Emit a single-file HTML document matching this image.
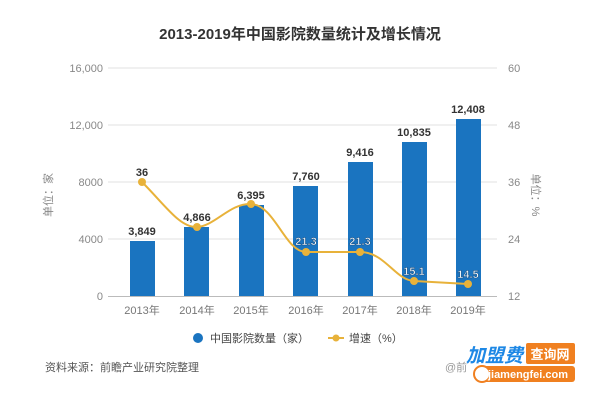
<!DOCTYPE html>
<html><head><meta charset="utf-8"><style>
body{margin:0;background:#fff;}
svg text{font-family:"Liberation Sans","Noto Sans CJK SC",sans-serif;}
</style></head><body>
<svg width="600" height="404" viewBox="0 0 600 404" xmlns="http://www.w3.org/2000/svg">
<text x="300" y="39" text-anchor="middle" font-size="15" font-weight="bold" fill="#333">2013-2019年中国影院数量统计及增长情况</text>
<g stroke="#e2e2e2" stroke-width="1">
<line x1="108" y1="68" x2="497" y2="68"/><line x1="108" y1="125" x2="497" y2="125"/>
<line x1="108" y1="182" x2="497" y2="182"/><line x1="108" y1="239" x2="497" y2="239"/>
</g>
<line x1="108" y1="296.5" x2="497" y2="296.5" stroke="#bbb"/>
<g font-size="11" fill="#888" text-anchor="end">
<text x="103" y="72">16,000</text><text x="103" y="129">12,000</text><text x="103" y="186">8000</text><text x="103" y="243">4000</text><text x="103" y="300">0</text>
</g>
<g font-size="11" fill="#888" text-anchor="start">
<text x="508" y="72">60</text><text x="508" y="129">48</text><text x="508" y="186">36</text><text x="508" y="243">24</text><text x="508" y="300">12</text>
</g>
<text transform="translate(52,195) rotate(-90)" font-size="11" fill="#888" text-anchor="middle">单位：家</text>
<text transform="translate(532,195) rotate(90)" font-size="11" fill="#888" text-anchor="middle">单位：%</text>
<g fill="#1a74c0">
<rect x="130" y="241" width="25" height="55"/>
<rect x="184" y="227" width="25" height="69"/>
<rect x="239" y="205" width="25" height="91"/>
<rect x="293" y="186" width="25" height="110"/>
<rect x="348" y="162" width="25" height="134"/>
<rect x="402" y="142" width="25" height="154"/>
<rect x="456" y="119" width="25" height="177"/>
</g>
<g font-size="11" fill="#333" font-weight="bold" text-anchor="middle">
<text x="142" y="235">3,849</text><text x="197" y="221">4,866</text><text x="251" y="199">6,395</text>
<text x="306" y="180">7,760</text><text x="360" y="156">9,416</text><text x="414" y="136">10,835</text><text x="468" y="113">12,408</text>
<text x="142" y="176">36</text>
</g>
<path d="M142,182 C165,205 180,228 197,227 C215,226 230,203 251,204 C275,205 285,252 306,252 L360,252 C385,252 395,280 414,281 L468,284" fill="none" stroke="#e8b23a" stroke-width="2"/>
<g fill="#e8b23a"><circle cx="142" cy="182" r="4"/><circle cx="197" cy="227" r="4"/><circle cx="251" cy="204" r="4"/><circle cx="306" cy="252" r="4"/><circle cx="360" cy="252" r="4"/><circle cx="414" cy="281" r="4"/><circle cx="468" cy="284" r="4"/></g>
<g font-size="11" fill="#fff" font-weight="bold" text-anchor="middle" stroke="#1a4f80" stroke-width="0.5">
<text x="306" y="245">21.3</text><text x="360" y="245">21.3</text><text x="414" y="275">15.1</text><text x="468" y="278">14.5</text>
</g>
<g font-size="11" fill="#777" text-anchor="middle">
<text x="142" y="314">2013年</text><text x="197" y="314">2014年</text><text x="251" y="314">2015年</text><text x="306" y="314">2016年</text><text x="360" y="314">2017年</text><text x="414" y="314">2018年</text><text x="468" y="314">2019年</text>
</g>
<circle cx="198" cy="338" r="5" fill="#1a74c0"/>
<text x="210" y="342" font-size="11" fill="#444">中国影院数量（家）</text>
<line x1="328" y1="338" x2="344" y2="338" stroke="#e8b23a" stroke-width="2"/><circle cx="336" cy="338" r="3.5" fill="#e8b23a"/>
<text x="349" y="342" font-size="11" fill="#444">增速（%）</text>
<text x="45" y="371" font-size="11" fill="#555">资料来源：前瞻产业研究院整理</text>
<text x="445" y="371" font-size="11" fill="#999">@前</text>
<text x="466" y="362" font-size="19" font-weight="bold" fill="#1e88e5" font-style="italic">加盟费</text>
<rect x="526" y="343" width="49" height="21" rx="2" fill="#f08020"/>
<text x="550" y="359" font-size="13" font-weight="bold" fill="#fff" text-anchor="middle">查询网</text>
<rect x="476" y="366" width="99" height="16" rx="3" fill="#f08020"/>
<circle cx="482" cy="374" r="8" fill="#fff" stroke="#f08020" stroke-width="2"/>
<text x="528" y="378" font-size="11" font-weight="bold" fill="#fff" text-anchor="middle">jiamengfei.com</text>
</svg>
</body></html>
